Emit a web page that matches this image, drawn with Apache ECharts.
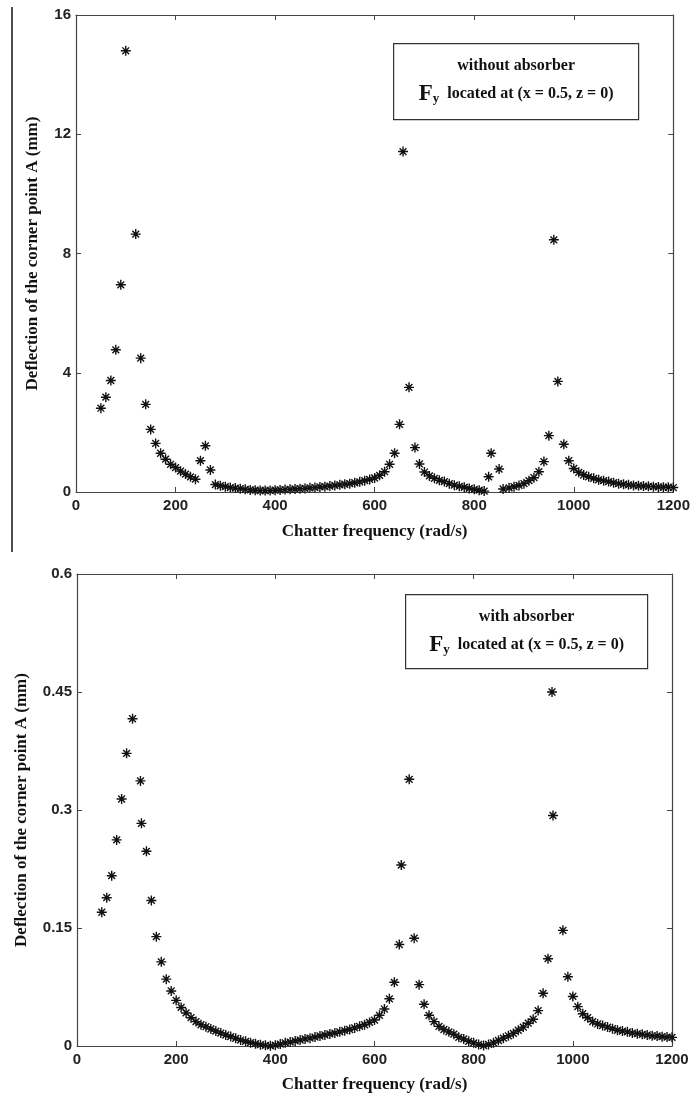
<!DOCTYPE html>
<html>
<head>
<meta charset="utf-8">
<script src="https://cdn.jsdelivr.net/npm/echarts@6/dist/echarts.min.js"></script>
<style>
    html, body { margin: 0; padding: 0; background: #fff; }
    #divChart { width: 693px; height: 1100px; }
</style>
</head>
<body>
<div id="divChart"></div>
<script>
// without absorber
var freqA = [50, 60, 70, 80, 90, 100, 120, 130, 140, 150, 160, 170, 180, 190, 200, 210, 220, 230, 240, 250,
    260, 270, 280, 290, 300, 310, 320, 330, 340, 350, 360, 370, 380, 390, 400, 410, 420, 430, 440, 450,
    460, 470, 480, 490, 500, 510, 520, 530, 540, 550, 560, 570, 580, 590, 600, 610, 620, 630, 640, 650,
    657, 669, 681, 690, 700, 710, 720, 730, 740, 750, 760, 770, 780, 790, 800, 810, 820, 829, 834, 850,
    858, 870, 880, 890, 900, 910, 920, 930, 940, 950, 960, 968, 980, 990, 1000, 1010, 1020, 1030, 1040, 1050,
    1060, 1070, 1080, 1090, 1100, 1110, 1120, 1130, 1140, 1150, 1160, 1170, 1180, 1190, 1200];
var defA = [2.81, 3.18, 3.74, 4.77, 6.95, 14.8, 8.65, 4.49, 2.94, 2.10, 1.63, 1.30, 1.10, 0.93, 0.82, 0.70, 0.60, 0.51, 0.43, 1.05,
    1.55, 0.74, 0.25, 0.21, 0.18, 0.15, 0.13, 0.11, 0.09, 0.07, 0.06, 0.05, 0.05, 0.05, 0.06, 0.07, 0.08, 0.09, 0.10, 0.11,
    0.12, 0.14, 0.15, 0.17, 0.18, 0.20, 0.22, 0.24, 0.26, 0.28, 0.31, 0.34, 0.38, 0.42, 0.47, 0.56, 0.68, 0.93, 1.30, 2.27,
    11.42, 3.51, 1.49, 0.94, 0.67, 0.54, 0.46, 0.39, 0.35, 0.28, 0.23, 0.19, 0.16, 0.12, 0.09, 0.06, 0.03, 0.51, 1.30, 0.77,
    0.10, 0.14, 0.18, 0.22, 0.28, 0.38, 0.48, 0.68, 1.02, 1.89, 8.46, 3.71, 1.60, 1.05, 0.79, 0.66, 0.57, 0.51, 0.46, 0.41,
    0.38, 0.35, 0.31, 0.28, 0.26, 0.24, 0.22, 0.21, 0.20, 0.19, 0.18, 0.17, 0.16, 0.16, 0.15];

// with absorber
var freqB = [50, 60, 70, 80, 90, 100, 112, 128, 130, 140, 150, 160, 170, 180, 190, 200, 210, 220, 230, 240,
    250, 260, 270, 280, 290, 300, 310, 320, 330, 340, 350, 360, 370, 380, 390, 400, 410, 420, 430, 440,
    450, 460, 470, 480, 490, 500, 510, 520, 530, 540, 550, 560, 570, 580, 590, 600, 610, 620, 630, 640,
    650, 654, 670, 680, 690, 700, 710, 720, 730, 740, 750, 760, 770, 780, 790, 800, 810, 820, 830, 840,
    850, 860, 870, 880, 890, 900, 910, 920, 930, 940, 950, 958, 960, 980, 990, 1000, 1010, 1020, 1030, 1040,
    1050, 1060, 1070, 1080, 1090, 1100, 1110, 1120, 1130, 1140, 1150, 1160, 1170, 1180, 1190, 1200];
var defB = [0.170, 0.1885, 0.2165, 0.262, 0.314, 0.372, 0.416, 0.337, 0.283, 0.2475, 0.185, 0.139, 0.107, 0.085, 0.070, 0.058, 0.049, 0.042, 0.036, 0.031,
    0.027, 0.0245, 0.0216, 0.019, 0.0165, 0.014, 0.012, 0.0097, 0.0076, 0.006, 0.0042, 0.003, 0.0017, 0.0008, 0.0002, 0.001, 0.0025, 0.004, 0.005, 0.0064,
    0.0076, 0.009, 0.010, 0.0114, 0.0127, 0.014, 0.0153, 0.0165, 0.018, 0.0195, 0.021, 0.023, 0.025, 0.027, 0.030, 0.033, 0.039, 0.047, 0.060, 0.081,
    0.129, 0.230, 0.339, 0.137, 0.078, 0.053, 0.039, 0.031, 0.025, 0.021, 0.018, 0.015, 0.011, 0.009, 0.006, 0.004, 0.002, 0.0005, 0.002, 0.004,
    0.007, 0.010, 0.013, 0.016, 0.020, 0.024, 0.029, 0.034, 0.045, 0.067, 0.111, 0.450, 0.293, 0.147, 0.088, 0.063, 0.050, 0.041, 0.036, 0.031,
    0.028, 0.026, 0.024, 0.022, 0.020, 0.019, 0.018, 0.0165, 0.0157, 0.0148, 0.014, 0.013, 0.0127, 0.0118, 0.0114, 0.011];

var xTicks = [0, 1200, 200];          // min, max, interval
var yTicksA = [0, 16, 4];
var yTicksB = [0, 0.6, 0.15];

var axisColor = '#444';
var serif = '"Liberation Serif", "DejaVu Serif", serif';
var sans = '"Liberation Sans", Arial, sans-serif';
var star = 'path://M5,0L5,10M0,5L10,5M1.6,1.6L8.4,8.4M1.6,8.4L8.4,1.6';

var myChart = echarts.init(document.getElementById('divChart'));

function pairs(xs, ys) {
    var result = [];
    for (var i = 0; i < xs.length; i++) {
        result.push([xs[i], ys[i]]);
    }
    return result;
}

function plain(v) {
    return String(v);
}

function xAxis(grid, pos, main) {
    return {
        type: 'value', gridIndex: grid, position: pos,
        min: xTicks[0], max: xTicks[1], interval: xTicks[2],
        name: main ? 'Chatter frequency (rad/s)' : '',
        nameLocation: 'middle', nameGap: grid == 0 ? 31 : 30,
        nameTextStyle: { fontFamily: serif, fontWeight: 'bold', fontSize: 17, color: '#111' },
        axisLine: { show: true, onZero: false, lineStyle: { color: axisColor, width: 1.2 } },
        axisTick: { show: true, inside: true, length: 5, lineStyle: { color: axisColor } },
        axisLabel: { show: main, margin: 6, fontFamily: sans, fontWeight: 'bold', fontSize: 15, color: '#222', formatter: plain },
        splitLine: { show: false }
    };
}

function yAxis(grid, pos, ticks, main) {
    return {
        type: 'value', gridIndex: grid, position: pos,
        min: ticks[0], max: ticks[1], interval: ticks[2],
        name: main ? 'Deflection of the corner point A (mm)' : '',
        nameLocation: 'middle', nameGap: grid == 0 ? 35 : 47,
        nameTextStyle: { fontFamily: serif, fontWeight: 'bold', fontSize: 17, color: '#111' },
        axisLine: { show: true, onZero: false, lineStyle: { color: axisColor, width: 1.2 } },
        axisTick: { show: true, inside: true, length: 5, lineStyle: { color: axisColor } },
        axisLabel: { show: main, margin: 5, fontFamily: sans, fontWeight: 'bold', fontSize: 15, color: '#222', formatter: plain },
        splitLine: { show: false }
    };
}

function noteBox(x, y, w, h, title) {
    return {
        type: 'group', left: x, top: y,
        children: [
            { type: 'rect', shape: { x: 0, y: 0, width: w, height: h },
              style: { fill: '#fff', stroke: '#333', lineWidth: 1.2 } },
            { type: 'text', x: w / 2, y: 22,
              style: { text: title, fontFamily: serif, fontWeight: 'bold', fontSize: 16, fill: '#111',
                       align: 'center', verticalAlign: 'middle' } },
            { type: 'text', x: w / 2, y: 50,
              style: {
                  text: '{F|F}{s|y}{t|  located at (x = 0.5, z = 0)}',
                  align: 'center', verticalAlign: 'middle',
                  rich: {
                      F: { fontFamily: serif, fontWeight: 'bold', fontSize: 23, fill: '#111' },
                      s: { fontFamily: serif, fontWeight: 'bold', fontSize: 13, fill: '#111', padding: [10, 0, 0, 0] },
                      t: { fontFamily: serif, fontWeight: 'bold', fontSize: 16, fill: '#111' }
                  }
              } }
        ]
    };
}

function scatter(xi, yi, xs, ys) {
    return {
        type: 'scatter', xAxisIndex: xi, yAxisIndex: yi,
        symbol: star, symbolSize: 10,
        itemStyle: { color: 'transparent', borderColor: '#111', borderWidth: 1.4, opacity: 1 },
        emphasis: { disabled: true },
        data: pairs(xs, ys)
    };
}

var option = {
    animation: false,
    backgroundColor: '#fff',
    grid: [
        { left: 76, top: 15, width: 599, height: 477 },
        { left: 77, top: 574, width: 595, height: 472 }
    ],
    xAxis: [
        xAxis(0, 'bottom', true), xAxis(0, 'top', false),
        xAxis(1, 'bottom', true), xAxis(1, 'top', false)
    ],
    yAxis: [
        yAxis(0, 'left', yTicksA, true), yAxis(0, 'right', yTicksA, false),
        yAxis(1, 'left', yTicksB, true), yAxis(1, 'right', yTicksB, false)
    ],
    series: [
        scatter(0, 0, freqA, defA),
        scatter(2, 2, freqB, defB)
    ],
    graphic: [
        // stray frame line at the left of the upper panel
        { type: 'line', shape: { x1: 12, y1: 7, x2: 12, y2: 552 }, style: { stroke: '#111', lineWidth: 1.5 } },
        noteBox(393, 43, 245, 76, 'without absorber'),
        noteBox(405, 594, 242, 74, 'with absorber')
    ]
};

myChart.setOption(option);
</script>
</body>
</html>
